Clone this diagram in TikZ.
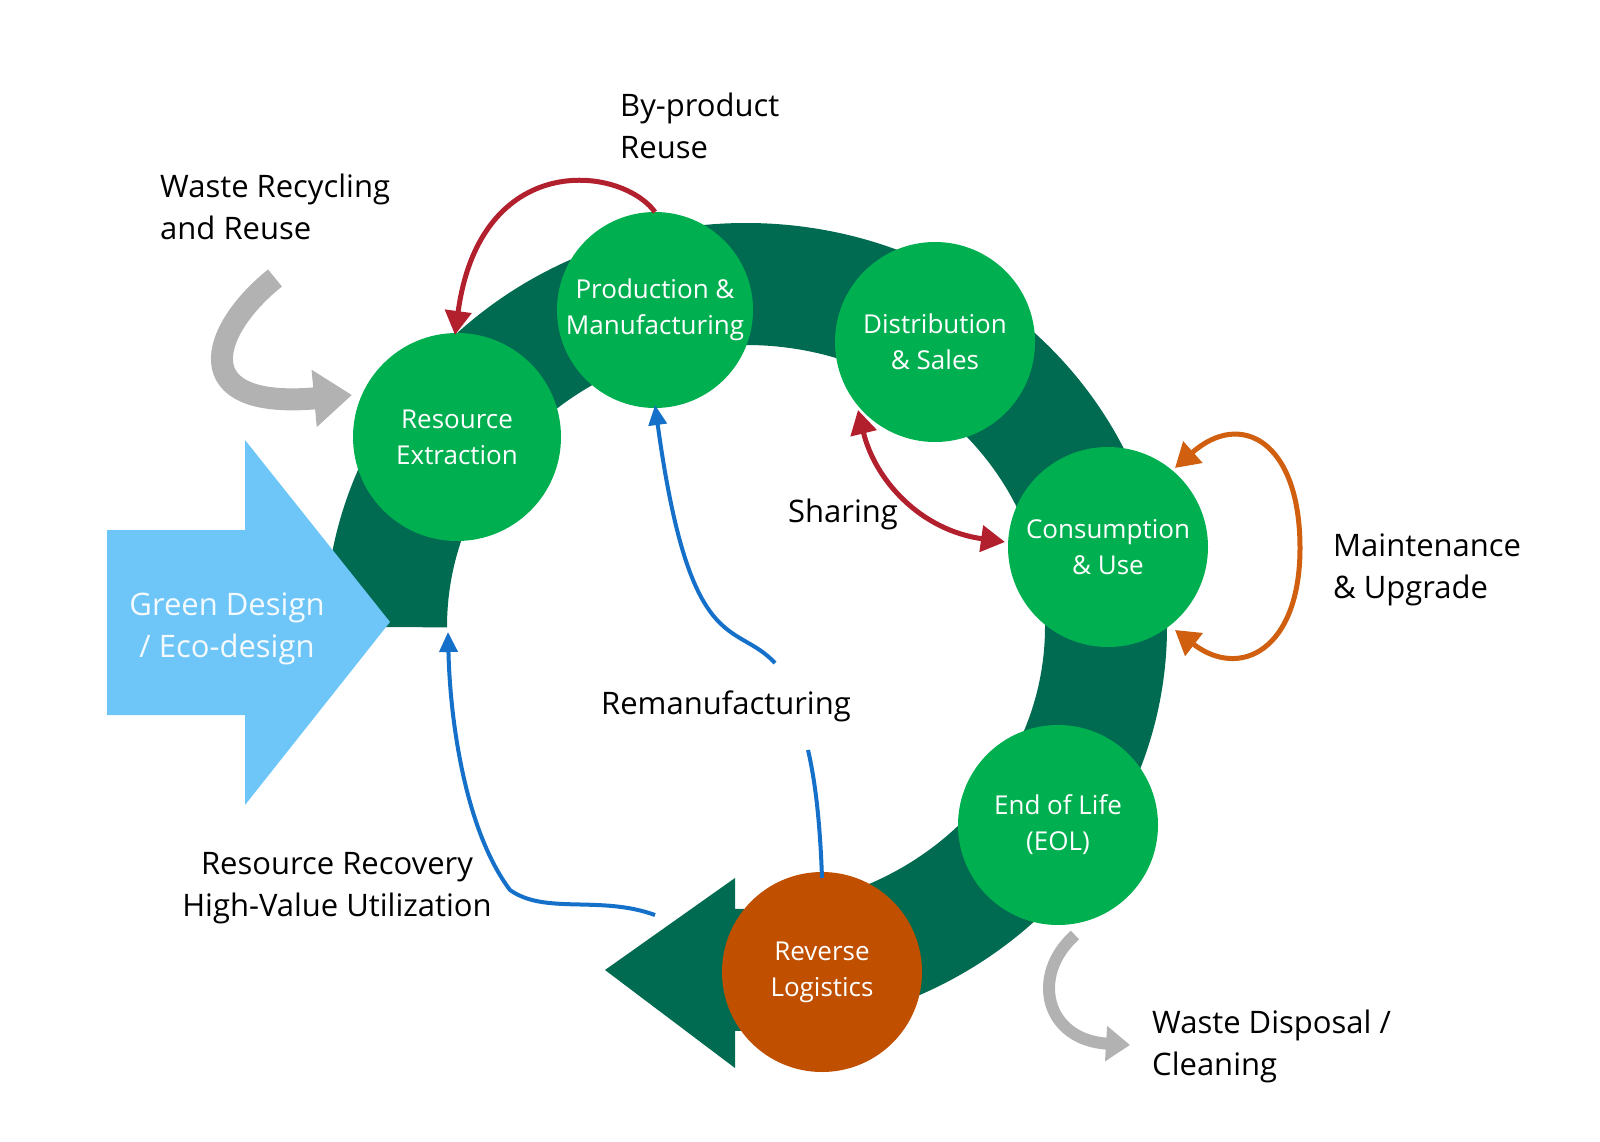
\documentclass[tikz,border=0pt]{standalone}
\usepackage{fontspec}
\setmainfont{Open Sans}
\usetikzlibrary{arrows.meta}
\definecolor{ring}{HTML}{006B50}
\definecolor{cg}{HTML}{00B050}
\definecolor{co}{HTML}{C05000}
\definecolor{lb}{HTML}{6EC6F8}
\definecolor{rd}{HTML}{B2202E}
\definecolor{og}{HTML}{D0600F}
\definecolor{bl}{HTML}{1470C8}
\tikzset{
 stage/.style={circle,fill=cg,minimum size=200pt,inner sep=0pt,text=white,align=center,font=\fontsize{26}{36}\selectfont},
 lbl/.style={align=left,font=\fontsize{31}{42}\selectfont,inner sep=0pt},
 redarr/.style={draw=rd,line width=5pt,-{Triangle[length=24pt,width=26pt]}},
 bluearr/.style={draw=bl,line width=4pt,-{Triangle[length=20pt,width=18pt]}},
 grayarr/.style={draw=gray!60,line width=22pt,-{Triangle[length=38pt,width=55pt]}},
}
\begin{document}
\begin{tikzpicture}[x=1pt,y=-1pt]
\useasboundingbox (0,0) rectangle (1600,1142);
% ring
\draw[ring,line width=122pt] (386,627) arc[start angle=180,end angle=-92,x radius=360pt,y radius=343pt];
\fill[ring] (735,878) -- (735,1068) -- (605,970) -- cycle;
% blue arrow
\fill[lb] (107,530) -- (245,530) -- (245,440) -- (390,622) -- (245,805) -- (245,715) -- (107,715) -- cycle;
\node[text=white!92!lb,align=center,font=\fontsize{31}{42}\selectfont] (gd) at (227,629) {Green Design\\/ Eco-design};
% circles
\node[stage,minimum size=208pt] (re) at (457,437) {Resource\\Extraction};
\node[stage,minimum size=196pt] (pm) at (655,310) {Production \&\\Manufacturing};
\node[stage] (ds) at (935,342) {Distribution\\\& Sales};
\node[stage] (cu) at (1108,547) {Consumption\\\& Use};
\node[stage] (eol) at (1058,825) {End of Life\\(EOL)};
\node[stage,fill=co] (rl) at (822,972) {Reverse\\Logistics};
% red arrows
\coordinate (bp1) at (655,212);
\coordinate (bp2) at (455,335);
\draw[redarr] (bp1) .. controls (620,165) and (480,150) .. (bp2);
\coordinate (sh1) at (858,410);
\coordinate (sh2) at (1005,542);
\draw[redarr,{Triangle[length=24pt,width=26pt]}-{Triangle[length=24pt,width=26pt]}] (sh1) .. controls (875,480) and (920,530) .. (sh2);
% orange loop
\coordinate (o1) at (1175,468);
\coordinate (o2) at (1175,630);
\draw[draw=og,line width=5pt,{Triangle[length=24pt,width=28pt]}-{Triangle[length=24pt,width=28pt]}] (o1) .. controls (1240,410) and (1300,440) .. (1300,548) .. controls (1300,650) and (1240,680) .. (o2);
% blue arrows
\coordinate (b1) at (775,663);
\coordinate (b2) at (655,405);
\draw[bluearr] (b1) .. controls (735,620) and (690,660) .. (b2);
\coordinate (b3) at (822,878);
\coordinate (b4) at (808,750);
\draw[draw=bl,line width=4pt] (b3) .. controls (820,820) and (815,780) .. (b4);
\coordinate (b5) at (655,915);
\coordinate (b6) at (448,632);
\draw[bluearr] (b5) .. controls (600,895) and (545,915) .. (510,890) .. controls (465,830) and (450,720) .. (b6);
% gray arrows
\coordinate (g1) at (275,278);
\coordinate (g2) at (352,395);
\draw[grayarr] (g1) .. controls (210,330) and (185,410) .. (g2);
\coordinate (g3) at (1075,935);
\coordinate (g4) at (1130,1045);
\draw[grayarr,line width=12pt,-{Triangle[length=24pt,width=34pt]}] (g3) .. controls (1030,975) and (1045,1040) .. (g4);
% labels
\node[lbl,anchor=west] (l1) at (620,126) {By-product\\Reuse};
\node[lbl,anchor=west] (l2) at (160,207) {Waste Recycling\\and Reuse};
\node[lbl] (l3) at (843,514) {Sharing};
\node[lbl,anchor=west] (l4) at (1333,570) {Maintenance\\\& Upgrade};
\node[lbl] (l5) at (726,706) {Remanufacturing};
\node[lbl,align=center] (l6) at (337,888) {Resource Recovery\\High-Value Utilization};
\node[lbl,anchor=west] (l7) at (1152,1046) {Waste Disposal /\\Cleaning};
\end{tikzpicture}
\end{document}
